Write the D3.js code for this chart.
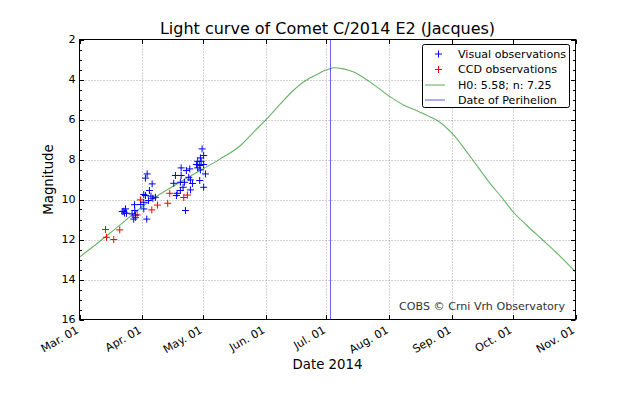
<!DOCTYPE html>
<html><head><meta charset="utf-8">
<script src="https://cdn.jsdelivr.net/npm/d3@7"></script>
<style>
body{margin:0;background:#fff;}
svg{display:block;font-family:"DejaVu Sans",sans-serif;}
</style></head>
<body><svg id="c" width="640" height="400"></svg>
<script>
// ---- data ----
const xTickDates = ["2014-03-01","2014-04-01","2014-05-01","2014-06-01","2014-07-01","2014-08-01","2014-09-01","2014-10-01","2014-11-01"];
const yTicks = [2,4,6,8,10,12,14,16];
const perihelionDate = "2014-07-02 14";

const visualDates = ["2014-03-23 17","2014-03-22 21","2014-03-22 02","2014-03-24 05","2014-03-23 05",
 "2014-03-27 00","2014-03-27 19","2014-03-28 07","2014-03-28 15","2014-03-28 04","2014-03-31 06","2014-04-01 18",
 "2014-04-01 18","2014-04-03 10","2014-04-02 14","2014-04-05 21","2014-04-04 13","2014-04-05 07","2014-04-06 05",
 "2014-04-04 01","2014-04-07 12","2014-04-03 05","2014-04-01 18","2014-04-02 14",
 "2014-04-30 13","2014-05-01 08","2014-04-29 17","2014-04-28 09","2014-04-30 02","2014-04-27 18","2014-04-29 09",
 "2014-05-01 08","2014-04-28 09","2014-04-29 17","2014-04-20 05","2014-04-22 19","2014-04-24 11","2014-04-17 09",
 "2014-04-20 05","2014-04-23 23","2014-05-02 05","2014-04-16 13","2014-04-19 20","2014-04-21 20","2014-04-24 19",
 "2014-04-29 09","2014-04-25 19","2014-04-21 04","2014-04-24 19","2014-05-01 08","2014-04-19 20","2014-04-18 05",
 "2014-04-17 21","2014-04-22 08"];
const visualMags = [10.47,10.59,10.60,10.69,10.68,
 10.72,10.98,10.55,10.78,10.26,10.25,10.14,
 9.75,8.72,8.93,9.22,9.55,9.83,9.94,
 10.05,9.89,10.98,10.47,9.80,
 7.47,7.80,7.92,8.09,8.09,8.25,8.30,
 8.25,8.42,8.52,8.42,8.55,8.47,8.80,
 8.80,8.89,8.72,9.19,9.14,9.14,9.02,
 9.05,9.20,9.39,9.52,9.39,9.55,9.69,
 9.80,10.55];

const ccdDates = ["2014-03-13 20","2014-03-14 08","2014-03-17 22","2014-03-20 21","2014-03-29 12","2014-03-28 15",
 "2014-03-31 02","2014-04-05 17","2014-04-08 12","2014-04-13 14","2014-04-14 14","2014-04-21 12","2014-04-23 07"];
const ccdMags = [11.50,11.89,12.00,11.52,10.77,10.90,10.02,10.52,10.28,10.19,9.69,9.90,9.78];

const curveDates = ["2014-03-01 00","2014-03-08 22","2014-03-18 12","2014-04-05 00","2014-04-20 00","2014-05-01 00",
 "2014-05-09 14","2014-05-19 12","2014-05-26 00","2014-06-01 00","2014-06-08 05","2014-06-14 14","2014-06-21 12",
 "2014-06-26 07","2014-06-29 14","2014-07-02 14","2014-07-04 12","2014-07-09 10","2014-07-14 10","2014-07-22 14",
 "2014-08-01 12","2014-08-08 00","2014-08-15 00","2014-08-21 00","2014-08-25 12","2014-09-01 07",
 "2014-09-10 00","2014-09-20 00","2014-09-26 00","2014-10-01 00","2014-10-08 00","2014-10-15 00","2014-10-22 00","2014-11-01 00"];
const curveMags = [12.88,12.26,11.48,10.05,9.11,8.47,
 7.97,7.30,6.63,6.02,5.22,4.55,4.00,
 3.75,3.57,3.48,3.41,3.47,3.63,4.13,
 4.87,5.27,5.58,5.86,6.10,6.72,
 7.85,9.22,9.95,10.60,11.30,11.95,12.60,13.62];

const legendLabels = ["Visual observations","CCD observations","H0: 5.58; n: 7.25","Date of Perihelion"];
const titleText = "Light curve of Comet C/2014 E2 (Jacques)";

// ---- drawing ----
const pDay = d3.timeParse("%Y-%m-%d");
const pHour = d3.timeParse("%Y-%m-%d %H");
const svg = d3.select("#c");
const L = 79.5, R = 575.5, T = 39.5, B = 319.5;
const x = d3.scaleTime().domain([pDay("2014-03-01"), pDay("2014-11-01")]).range([L, R]);
const y = d3.scaleLinear().domain([2, 16]).range([T, B]);
const xt = xTickDates.map(pDay);

svg.append("defs").append("clipPath").attr("id","clip")
  .append("rect").attr("x",L).attr("y",T).attr("width",R-L).attr("height",B-T);

// grid
const grid = svg.append("g").attr("stroke","#000").attr("stroke-opacity",0.35)
  .attr("stroke-dasharray","1,2").attr("stroke-width",1);
xt.slice(1,-1).forEach(d=>{ const px=Math.round(x(d))+0.5;
  grid.append("line").attr("x1",px).attr("x2",px).attr("y1",T).attr("y2",B); });
yTicks.slice(1,-1).forEach(v=>{ const py=Math.round(y(v))+0.5;
  grid.append("line").attr("x1",L).attr("x2",R).attr("y1",py).attr("y2",py); });

const plot = svg.append("g").attr("clip-path","url(#clip)");
// model curve
const line = d3.line().x((d,i)=>x(pHour(curveDates[i]))).y((d,i)=>y(curveMags[i])).curve(d3.curveMonotoneX);
plot.append("path").datum(curveMags).attr("d",line).attr("fill","none")
  .attr("stroke","#008000").attr("stroke-opacity",0.6).attr("stroke-width",1.1);

// perihelion
const ph = Math.round(x(pHour(perihelionDate)))+0.5;
plot.append("line").attr("x1",ph).attr("x2",ph).attr("y1",T).attr("y2",B)
  .attr("stroke","#0000ff").attr("stroke-opacity",0.6).attr("stroke-width",1);

function cross(g, cx, cy, color, s){
  g.append("path").attr("d",`M${cx-s},${cy}H${cx+s}M${cx},${cy-s}V${cy+s}`)
   .attr("stroke",color).attr("stroke-width",1).attr("fill","none");
}
ccdMags.forEach((m,i)=>cross(plot, x(pHour(ccdDates[i])), y(m), "#ff0000", 3.5));
visualMags.forEach((m,i)=>cross(plot, x(pHour(visualDates[i])), y(m), "#0000ff", 3.5));

// spines
svg.append("rect").attr("x",L).attr("y",T).attr("width",R-L).attr("height",B-T)
  .attr("fill","none").attr("stroke","#000").attr("stroke-width",1);

// ticks
const tk = svg.append("g").attr("stroke","#000").attr("stroke-width",1);
xt.forEach(d=>{ const px=Math.round(x(d))+0.5;
  tk.append("line").attr("x1",px).attr("x2",px).attr("y1",B).attr("y2",B-4.5);
  tk.append("line").attr("x1",px).attr("x2",px).attr("y1",T).attr("y2",T+4.5); });
d3.range(2,16.01,0.5).forEach(v=>{ const py=Math.round(y(v))+0.5;
  const len = (v%2===0)?4.5:2.5;
  tk.append("line").attr("x1",L).attr("x2",L+len).attr("y1",py).attr("y2",py);
  tk.append("line").attr("x1",R).attr("x2",R-len).attr("y1",py).attr("y2",py); });

// tick labels
const fmt = d3.timeFormat("%b. %d");
xt.forEach(d=>{ const px=x(d);
  svg.append("text").attr("transform",`translate(${px-4},${B+6}) rotate(-30)`)
    .attr("text-anchor","end").attr("dy","0.7em").attr("font-size",11.1).attr("fill","#000").text(fmt(d)); });
yTicks.forEach(v=>{
  svg.append("text").attr("x",L-4).attr("y",y(v)).attr("dy","0.36em").attr("text-anchor","end")
    .attr("font-size",11.1).attr("fill","#000").text(v); });

// titles
svg.append("text").attr("x",(L+R)/2).attr("y",34).attr("text-anchor","middle").attr("font-size",16).text(titleText);
svg.append("text").attr("x",(L+R)/2).attr("y",369).attr("text-anchor","middle").attr("font-size",13.3).text("Date 2014");
svg.append("text").attr("transform",`translate(53,${(T+B)/2}) rotate(-90)`).attr("text-anchor","middle").attr("font-size",13.3).text("Magnitude");

// credit
svg.append("text").attr("x",565).attr("y",310).attr("text-anchor","end").attr("font-size",11.1)
  .attr("fill","#333").text("COBS © Crni Vrh Observatory");

// legend
const lg = svg.append("g");
lg.append("rect").attr("x",422.5).attr("y",44.5).attr("width",147).attr("height",63).attr("rx",2)
  .attr("fill","#fff").attr("stroke","#000").attr("stroke-width",1);
const rows = [54, 69.5, 85, 100];
cross(lg, 438.5, rows[0], "#0000ff", 3.5);
cross(lg, 438.5, rows[1], "#ff0000", 3.5);
lg.append("line").attr("x1",425).attr("x2",445).attr("y1",rows[2]).attr("y2",rows[2])
  .attr("stroke","#008000").attr("stroke-opacity",0.6).attr("stroke-width",1.1);
lg.append("line").attr("x1",425).attr("x2",445).attr("y1",rows[3]).attr("y2",rows[3])
  .attr("stroke","#0000ff").attr("stroke-opacity",0.6).attr("stroke-width",1.1);
legendLabels.forEach((t,i)=>lg.append("text").attr("x",458).attr("y",rows[i]).attr("dy","0.36em")
  .attr("font-size",11.1).text(t));
</script></body></html>
